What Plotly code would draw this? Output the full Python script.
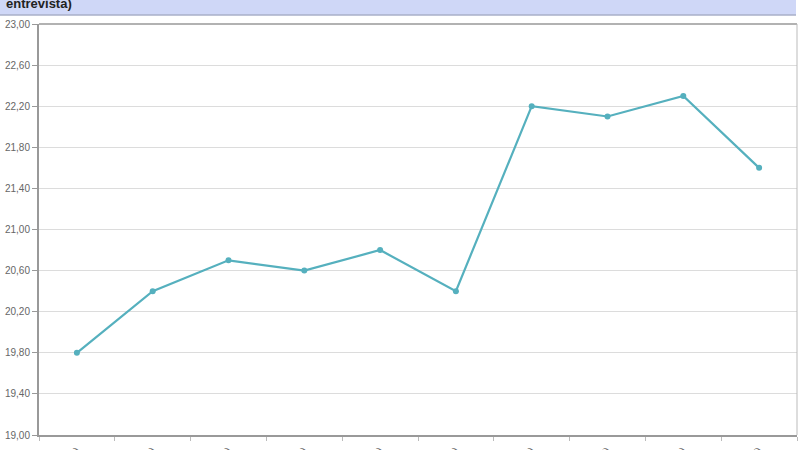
import plotly.graph_objects as go

categories = ["2008)", "2009)", "2010)", "2011)", "2012)", "2013)", "2014)", "2015)", "2016)", "2017)"]
values = [19.80, 20.40, 20.70, 20.60, 20.80, 20.40, 22.20, 22.10, 22.30, 21.60]
y_ticks = [19.0, 19.4, 19.8, 20.2, 20.6, 21.0, 21.4, 21.8, 22.2, 22.6, 23.0]
title_text = "entrevista)"

W, H = 800, 450
ml, mr, mt, mb = 39, 3, 24, 15
pw, ph = W - ml - mr, H - mt - mb

fig = go.Figure(go.Scatter(
    x=categories, y=values, mode="lines+markers",
    line=dict(color="#55b0be", width=2.2),
    marker=dict(color="#55b0be", size=6),
    hoverinfo="skip",
))

fig.update_layout(
    width=W, height=H, margin=dict(l=ml, r=mr, t=mt, b=mb, autoexpand=False),
    paper_bgcolor="white", plot_bgcolor="white",
    separators=",.", showlegend=False,
    font=dict(family="Liberation Sans, Arial, sans-serif", color="#555"),
)
fig.update_yaxes(
    range=[19.0, 23.0], tickvals=y_ticks, tickformat=".2f", automargin=False,
    showgrid=True, gridcolor="#dcdcdc", gridwidth=1,
    ticks="outside", ticklen=5, tickcolor="#999", tickfont=dict(size=10, color="#666"),
    showline=True, linecolor="#999", linewidth=2, zeroline=False, mirror=False,
)
fig.update_xaxes(
    type="category", range=[-0.5, len(categories) - 0.5], automargin=False,
    tickson="boundaries", ticks="outside", ticklen=4, tickcolor="#bbb",
    showline=True, linecolor="#999", linewidth=2, showgrid=False,
    tickangle=-45, tickfont=dict(size=11, color="#666"), ticklabelstandoff=3,
)
# top and right frame
fig.add_shape(type="line", xref="paper", yref="paper", x0=0, x1=1, y0=1, y1=1,
              line=dict(color="#999", width=1.5))
fig.add_shape(type="line", xref="paper", yref="paper", x0=1, x1=1, y0=0, y1=1,
              line=dict(color="#bbb", width=1))
# header band
fig.add_shape(type="rect", xref="paper", yref="paper",
              x0=-ml / pw, x1=(W - 4 - ml) / pw,
              y0=(H - mb - 15) / ph, y1=(H - mb + 2) / ph,
              fillcolor="#cfd7f7", line=dict(width=0), layer="below")
fig.add_shape(type="line", xref="paper", yref="paper",
              x0=-ml / pw, x1=(W - 4 - ml) / pw,
              y0=(H - mb - 15) / ph, y1=(H - mb - 15) / ph,
              line=dict(color="#a9afc8", width=1.5))
fig.add_annotation(text="<b>" + title_text + "</b>", xref="paper", yref="paper",
                   x=(4 - ml) / pw, y=(H - mb - 13) / ph, xanchor="left", yanchor="bottom",
                   showarrow=False, font=dict(size=13, color="#222"))

fig.write_html("out.html", config={"displayModeBar": False},
               post_script="document.body.style.margin='0';document.body.style.overflow='hidden';")
